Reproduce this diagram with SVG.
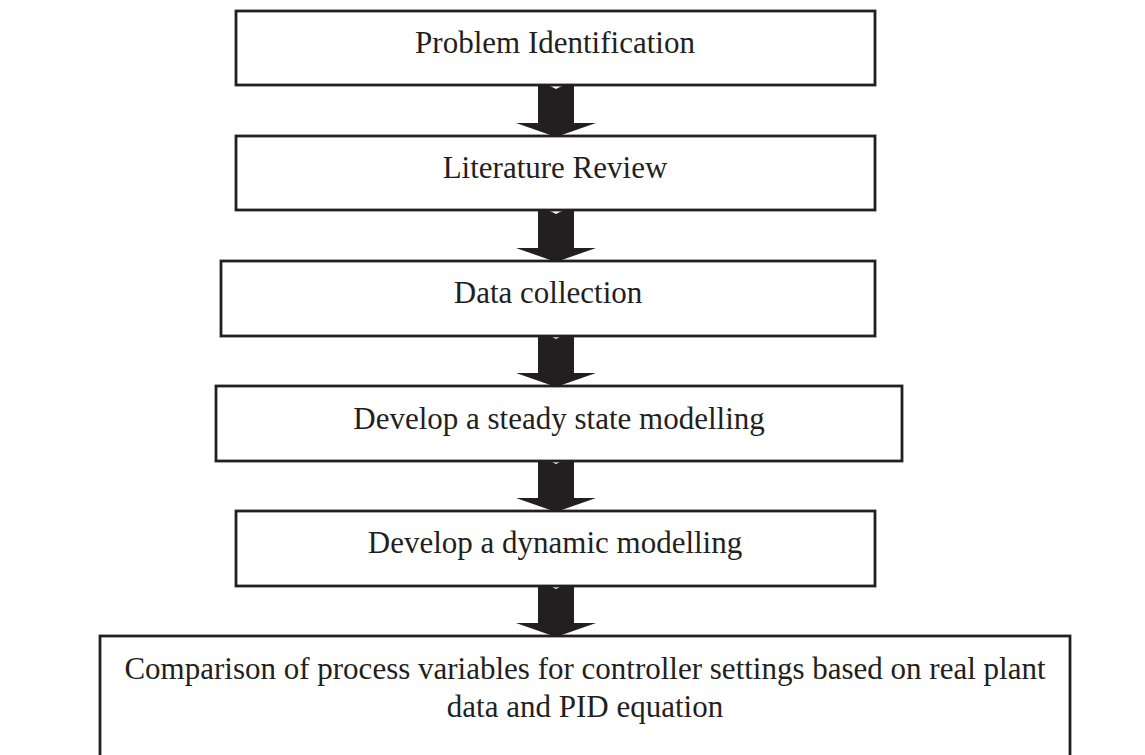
<svg xmlns="http://www.w3.org/2000/svg" width="1145" height="755" viewBox="0 0 1145 755">
  <style>
    .box { fill: #ffffff; stroke: #231f20; stroke-width: 2.8; }
    .lbl { font-family: "Liberation Serif", "Times New Roman", serif; font-size: 31px; fill: #231f20; text-anchor: middle; }
    .arrow { fill: #231f20; stroke: none; }
    .notch { fill: #ffffff; }
  </style>
  <defs>
    <path id="arr" d="M -18 0 L 18 0 L 18 37 L 40 37 L 0 51 L -40 37 L -18 37 Z"/>
  </defs>
  <rect width="1145" height="755" fill="#ffffff"/>
  <g id="connectors">
    <g transform="translate(556,86)"><use href="#arr" class="arrow"/><path class="notch" d="M -6 0 L 6 0 L 0 3 Z"/></g>
    <g transform="translate(556,211)"><use href="#arr" class="arrow"/><path class="notch" d="M -6 0 L 6 0 L 0 3 Z"/></g>
    <g transform="translate(556,336)"><use href="#arr" class="arrow"/><path class="notch" d="M -6 0 L 6 0 L 0 3 Z"/></g>
    <g transform="translate(556,461)"><use href="#arr" class="arrow"/><path class="notch" d="M -6 0 L 6 0 L 0 3 Z"/></g>
    <g transform="translate(556,586)"><use href="#arr" class="arrow"/><path class="notch" d="M -6 0 L 6 0 L 0 3 Z"/></g>
  </g>
  <g id="node-problem">
    <rect class="box" x="236" y="11" width="639" height="74"/>
    <text class="lbl" x="555" y="53">Problem Identification</text>
  </g>
  <g id="node-literature">
    <rect class="box" x="236" y="136" width="639" height="74"/>
    <text class="lbl" x="555" y="178">Literature Review</text>
  </g>
  <g id="node-data">
    <rect class="box" x="221" y="261" width="654" height="75"/>
    <text class="lbl" x="548" y="303">Data collection</text>
  </g>
  <g id="node-steady">
    <rect class="box" x="216" y="386" width="686" height="75"/>
    <text class="lbl" x="559" y="429">Develop a steady state modelling</text>
  </g>
  <g id="node-dynamic">
    <rect class="box" x="236" y="511" width="639" height="75"/>
    <text class="lbl" x="555" y="553">Develop a dynamic modelling</text>
  </g>
  <g id="node-comparison">
    <rect class="box" x="100" y="636" width="970" height="140"/>
    <text class="lbl" x="585" y="679">Comparison of process variables for controller settings based on real plant</text>
    <text class="lbl" x="585" y="717">data and PID equation</text>
  </g>
</svg>
